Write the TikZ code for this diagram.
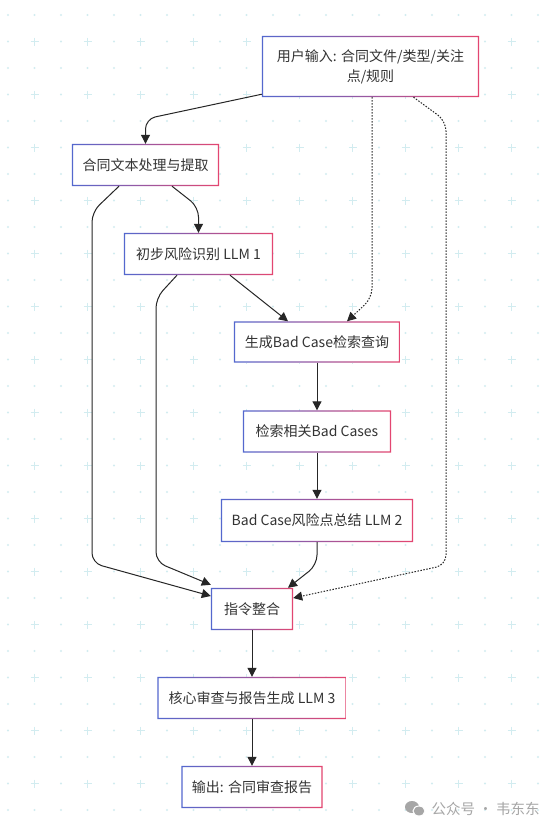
\documentclass[tikz,border=0pt]{standalone}
\usepackage[svgnames]{xcolor}
\usepackage{fontspec}
\setmainfont{Noto Sans CJK SC}
\usepackage{tikz}
\usetikzlibrary{
  arrows.meta
}
\definecolor{gridtint}{RGB}{210,236,240}
\definecolor{edgeblue}{RGB}{84,104,206}
\definecolor{edgepink}{RGB}{228,70,112}
\colorlet{ink}{black!80}

\begin{document}
\begin{tikzpicture}[
  x=1pt, y=-1pt,
  every node/.style={text=ink, font=\fontsize{14}{20}\selectfont},
  stage/.style={fill=white, minimum height=42pt, inner sep=0pt},
%  stage/.style={fill=white, draw=edgeblue},
  flow/.style={draw=black!85, line width=1pt, rounded corners=10pt,
    -{Triangle[length=9pt,width=9pt]}},
  hint/.style={flow, dash pattern=on 1.5pt off 1.5pt}
]
\fill[white] (0,0) rectangle (553,831);
\foreach \i in {0,...,20}
  \foreach \j in {0,...,30} {
    \pgfmathparse{int(mod(\i,2)*mod(\j,2))}
    \ifnum\pgfmathresult=1
      \draw[gridtint, line width=1.5pt] (8+26.5*\i,15+26.5*\j) ++(-4,0) -- ++(8,0) ++(-4,-4) -- ++(0,8);
    \else
      \fill[gridtint] (8+26.5*\i,15+26.5*\j) circle (1.2pt);
    \fi
  }

\node[stage, minimum width=217pt, minimum height=61pt, align=center] (input) at (370.5,66.5) {用户输入: 合同文件/类型/关注\\点/规则};
\node[stage, minimum width=147pt] (extract) at (145.5,165) {合同文本处理与提取};
\node[stage, minimum width=149pt] (risk) at (198.5,254) {初步风险识别 LLM 1};
\node[stage, minimum width=166pt, minimum height=41pt] (query) at (317,342) {生成Bad Case检索查询};
\node[stage, minimum width=148pt] (fetch) at (317,431.5) {检索相关Bad Cases};
\node[stage, minimum width=192pt, minimum height=43pt] (summary) at (317,520.5) {Bad Case风险点总结 LLM 2};
\node[stage, minimum width=82pt] (merge) at (252,609) {指令整合};
\node[stage, minimum width=189pt] (review) at (252,698) {核心审查与报告生成 LLM 3};
\node[stage, minimum width=141pt] (report) at (252,787) {输出: 合同审查报告};

% gradient frames
\foreach \n in {input,extract,risk,query,fetch,summary,merge,review,report}
  \shade[left color=edgeblue, right color=edgepink, even odd rule]
    (\n.north west) rectangle (\n.south east)
    ([shift={(1.3pt,-1.3pt)}]\n.north west) rectangle ([shift={(-1.3pt,1.3pt)}]\n.south east);

\draw[flow] ([yshift=3pt]input.south west) -- (extract.north |- 0,119) -- (extract.north);
\draw[flow] ([xshift=26.5pt]extract.south) -- (risk.north |- 0,207) -- (risk.north);
\draw[flow] ([xshift=-26.5pt]extract.south) -- (92,212) -- (92,563) -- ([yshift=13pt]merge.west);
\draw[flow] ([xshift=-21.5pt]risk.south) -- (156,298) -- (156,562) -- ([yshift=3pt]merge.north west);
\draw[flow] ([xshift=31.5pt]risk.south) -- ([xshift=-29pt]query.north);
\draw[hint] ([xshift=1.5pt]input.south) -- (372,298) -- ([xshift=30pt]query.north);
\draw[hint] ([xshift=43pt]input.south) -- (446,121) -- (446,565) -- ([yshift=11pt]merge.east);
\draw[flow] (query.south) -- (fetch.north);
\draw[flow] (fetch.south) -- (summary.north);
\draw[flow] (summary.south) -- (summary.south |- 0,565) -- ([xshift=36pt]merge.north);
\draw[flow] (merge.south) -- (review.north);
\draw[flow] (review.south) -- (report.north);

\node[text=black!35, font=\fontsize{14.5}{16}\selectfont, anchor=west] (wmark) at (428,809) {公众号 · 韦东东};
\fill[black!35] (412,807) ellipse (7pt and 6pt);
\filldraw[fill=black!35, draw=white, line width=1pt] (419,811) ellipse (6pt and 5pt);
\end{tikzpicture}
\end{document}
